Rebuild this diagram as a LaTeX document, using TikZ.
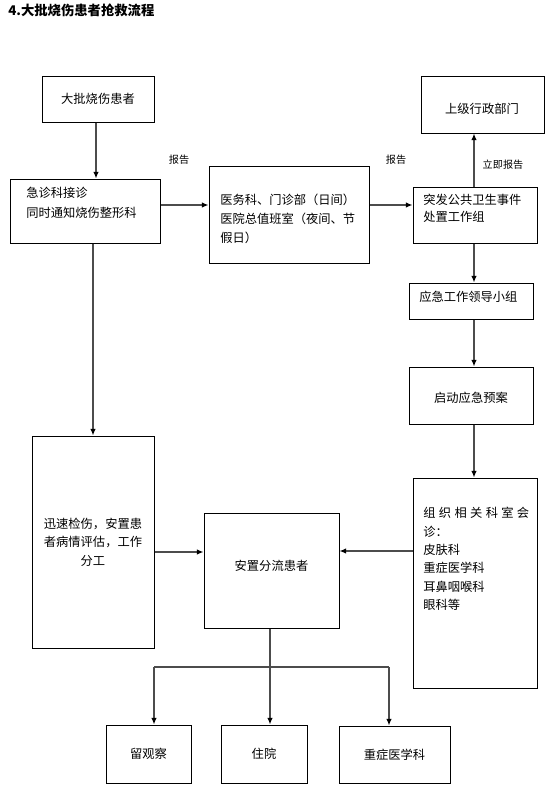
\documentclass[tikz,border=0pt]{standalone}
\usepackage{fontspec}
\setmainfont{Noto Sans CJK SC}
\usetikzlibrary{arrows.meta}

\begin{document}
\begin{tikzpicture}[x=0.75pt,y=-0.75pt,
  box/.style 2 args={draw,line width=0.75pt,inner sep=0pt,
    minimum width=#1*0.75pt,minimum height=#2*0.75pt,
    font=\fontsize{9.2}{14}\selectfont},
  txt/.style={inner sep=0pt,align=left,font=\fontsize{9.2}{14}\selectfont},
  tag/.style={inner sep=0pt,font=\fontsize{7.6}{9}\selectfont},
  arr/.style={line width=1pt,black!70,-{Latex[length=5pt,width=4.2pt,black]}}]
\useasboundingbox (0,0) rectangle (556,811);
\node[anchor=base west,inner sep=0pt,font=\fontsize{10}{12}\selectfont\bfseries] (bt) at (8,15) {4.大批烧伤患者抢救流程};
\node[box={112}{46}] (sh) at (98,99) {大批烧伤患者};
\node[box={150}{64}] (jz) at (85,211) {};
\node[txt,anchor=west,font=\fontsize{9.2}{15}\selectfont] (jzt) at (26,203) {急诊科接诊\\同时通知烧伤整形科};
\node[box={160}{97}] (yw) at (289,214.5) {};
\node[txt,anchor=west] (ywt) at (220,219) {医务科、门诊部（日间）\\医院总值班室（夜间、节\\假日）};
\node[box={124}{56}] (tf) at (475,215) {};
\node[txt,anchor=west,font=\fontsize{9.2}{13}\selectfont] (tft) at (423,208.5) {突发公共卫生事件\\处置工作组};
\node[box={123}{57}] (sj) at (482.5,104.5) {};
\node[txt] (sjt) at (482,109) {上级行政部门};
\node[box={124}{36}] (ld) at (471,301) {};
\node[txt,anchor=west] (ldt) at (419,297) {应急工作领导小组};
\node[box={124}{57}] (qd) at (471,395.5) {};
\node[txt] (qdt) at (471,398) {启动应急预案};
\node[box={124}{210}] (hz) at (475,583) {};
\node[txt,anchor=west,font=\fontsize{9.2}{13.8}\selectfont] (hzt) at (423,559) {\makebox[79.5pt][s]{组\hfill 织\hfill 相\hfill 关\hfill 科\hfill 室\hfill 会}\\诊：\\皮肤科\\重症医学科\\耳鼻咽喉科\\眼科等};
\node[box={122}{212},align=center] (xs) at (93,542) {迅速检伤，安置患\\者病情评估，工作\\分工};
\node[box={135}{115}] (az) at (271.5,570.5) {};
\node[txt] (azt) at (271.5,566) {安置分流患者};
\node[box={85}{58}] (lg) at (148.5,754) {留观察};
\node[box={86}{58}] (zy) at (264,754) {住院};
\node[box={111}{57}] (zz) at (394.5,754.5) {重症医学科};
\node[tag] (bg1) at (179,160) {报告};
\node[tag] (bg2) at (396,160) {报告};
\node[tag] (ljbg) at (503,165) {立即报告};
\draw[arr] (sh.south -| 96,0) -- (jz.north -| 96,0);
\draw[arr] (jz.east |- 0,205) -- (yw.west |- 0,205);
\draw[arr] (yw.east |- 0,205) -- (tf.west |- 0,205);
\draw[arr] (tf.north -| 474,0) -- (sj.south -| 474,0);
\draw[arr] (tf.south -| 474,0) -- (ld.north -| 474,0);
\draw[arr] (ld.south -| 474,0) -- (qd.north -| 474,0);
\draw[arr] (qd.south -| 474,0) -- (hz.north -| 474,0);
\draw[arr] (hz.west |- 0,551) -- (az.east |- 0,551);
\draw[arr] (jz.south -| xs.north) -- (xs.north);
\draw[arr] (xs.east |- 0,552) -- (az.west |- 0,552);
\draw[arr] (az.south -| 270,0) -- (zy.north -| 270,0);
\coordinate (fl) at (154,667);
\coordinate (fr) at (389,667);
\draw[line width=1pt,black!70] (fl) -- (fr);
\draw[arr] (fl) -- (fl |- lg.north);
\draw[arr] (fr) -- (fr |- zz.north);
\end{tikzpicture}
\end{document}
